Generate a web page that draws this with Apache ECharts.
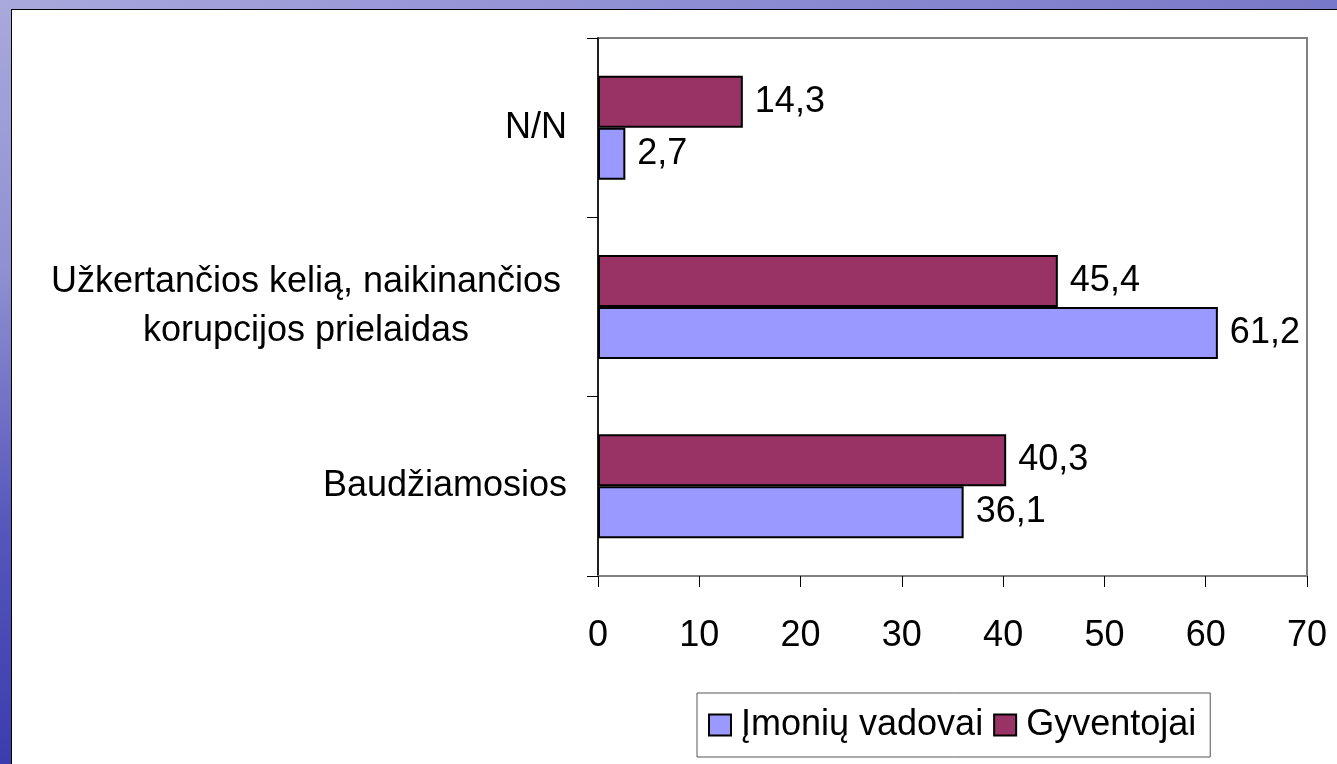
<!DOCTYPE html>
<html>
<head>
<meta charset="utf-8">
<script src="https://cdn.jsdelivr.net/npm/echarts@6/dist/echarts.min.js"></script>
<style>
  html, body { margin: 0; padding: 0; width: 1337px; height: 764px; overflow: hidden; background: #fff; }
  #topStrip { position: absolute; left: 0; top: 0; width: 1337px; height: 9px; background: linear-gradient(to right, #a9a9dd, #8e8ed4 50%, #7878c8); }
  #leftStrip { position: absolute; left: 0; top: 0; width: 11px; height: 764px; background: linear-gradient(to bottom, #a9a9dd, #9090d2 35%, #5555bb 70%, #3c3cae); }
  #paper { position: absolute; left: 11px; top: 9px; right: 0; bottom: 0; background: #fff; border-left: 1px solid #000; border-top: 1px solid #000; }
  #main { position: absolute; left: 0; top: 0; width: 1337px; height: 764px; }
</style>
</head>
<body>
<div id="topStrip"></div>
<div id="leftStrip"></div>
<div id="paper"></div>
<div id="main"></div>
<script>
// categories, bottom to top
const categories = ['Baudžiamosios', 'Užkertančios kelią, naikinančios\nkorupcijos prielaidas', 'N/N']
const seriesNames = ['Įmonių vadovai', 'Gyventojai']
const imoniuVadovai = [36.1, 61.2, 2.7]
const gyventojai = [40.3, 45.4, 14.3]
const xTicks = [0, 70, 10]

const font = "'Liberation Sans', Arial, sans-serif"
const fontSize = 36

const myChart = echarts.init(document.getElementById('main'))

const barLabel = {
    show: true,
    position: 'right',
    distance: 12,
    color: '#000',
    fontFamily: font,
    fontSize,
    formatter: p => String(p.value).replace('.', ',')
}

// echarts puts the first series on top in a horizontal bar, so Gyventojai goes first
const option = {
    animation: false,
    backgroundColor: 'transparent',
    grid: {
        left: 598,
        right: 30,
        top: 38,
        bottom: 188,
        show: true,
        borderColor: '#808080',
        borderWidth: 2
    },
    legend: {
        data: seriesNames,
        left: 697,
        top: 693,
        padding: [14, 14, 14, 11],
        itemGap: 10,
        itemWidth: 22,
        itemHeight: 21,
        icon: 'rect',
        borderColor: '#555',
        borderWidth: 1,
        textStyle: { color: '#000', fontFamily: font, fontSize, padding: [0, 0, 0, 5] }
    },
    xAxis: {
        type: 'value',
        min: xTicks[0],
        max: xTicks[1],
        interval: xTicks[2],
        splitLine: { show: false },
        axisLine: { show: true, lineStyle: { color: '#808080', width: 2 } },
        axisTick: { show: true, length: 11, lineStyle: { color: '#000', width: 1 } },
        axisLabel: { color: '#000', fontFamily: font, fontSize, margin: 42 }
    },
    yAxis: {
        type: 'category',
        data: categories,
        axisLine: { show: true, lineStyle: { color: '#000', width: 1.5 } },
        axisTick: { show: true, length: 11, lineStyle: { color: '#000', width: 1 } },
        axisLabel: {
            color: '#000',
            fontFamily: font,
            fontSize,
            margin: 31,
            lineHeight: 49,
            formatter: v => v.indexOf('\n') < 0 ? v : v.split('\n').map(s => '{c|' + s + '}').join('\n'),
            rich: {
                c: { width: 522, align: 'center', fontFamily: font, fontSize, color: '#000', lineHeight: 49 }
            }
        }
    },
    series: [
        {
            name: seriesNames[1],
            type: 'bar',
            data: gyventojai,
            barGap: '0%',
            barCategoryGap: '42%',
            itemStyle: { color: '#993366', borderColor: '#000', borderWidth: 2 },
            label: barLabel
        },
        {
            name: seriesNames[0],
            type: 'bar',
            data: imoniuVadovai,
            barGap: '0%',
            barCategoryGap: '42%',
            itemStyle: { color: '#9999ff', borderColor: '#000', borderWidth: 2 },
            label: barLabel
        }
    ]
}

myChart.setOption(option)
</script>
</body>
</html>
